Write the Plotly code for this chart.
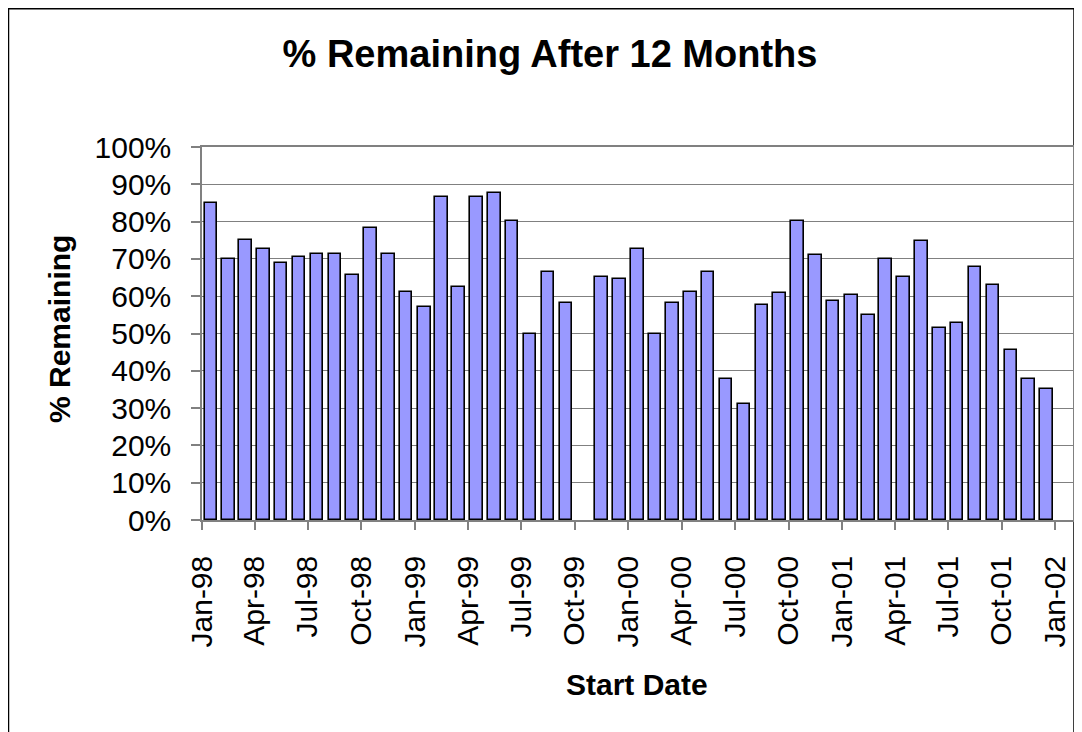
import plotly.graph_objects as go

# ---- data ----
months = [
    "1998-01", "1998-02", "1998-03", "1998-04", "1998-05", "1998-06",
    "1998-07", "1998-08", "1998-09", "1998-10", "1998-11", "1998-12",
    "1999-01", "1999-02", "1999-03", "1999-04", "1999-05", "1999-06",
    "1999-07", "1999-08", "1999-09", "1999-10", "1999-11", "1999-12",
    "2000-01", "2000-02", "2000-03", "2000-04", "2000-05", "2000-06",
    "2000-07", "2000-08", "2000-09", "2000-10", "2000-11", "2000-12",
    "2001-01", "2001-02", "2001-03", "2001-04", "2001-05", "2001-06",
    "2001-07", "2001-08", "2001-09", "2001-10", "2001-11", "2001-12",
]
pct_remaining = [
    85.0, 70.0, 75.2, 72.6, 68.8, 70.5, 71.4, 71.4, 65.6, 78.4, 71.4, 61.2,
    57.0, 86.5, 62.4, 86.5, 87.6, 80.1, 50.0, 66.6, 58.1, None, 65.1, 64.5,
    72.6, 50.0, 58.1, 61.2, 66.6, 37.7, 31.2, 57.6, 60.8, 80.1, 71.0, 58.6,
    60.3, 54.9, 69.9, 65.1, 74.8, 51.6, 52.7, 67.8, 62.9, 45.7, 37.7, 35.0,
]
tick_dates = [
    "1998-01-01", "1998-04-01", "1998-07-01", "1998-10-01",
    "1999-01-01", "1999-04-01", "1999-07-01", "1999-10-01",
    "2000-01-01", "2000-04-01", "2000-07-01", "2000-10-01",
    "2001-01-01", "2001-04-01", "2001-07-01", "2001-10-01",
    "2002-01-01",
]
tick_labels = [
    "Jan-98", "Apr-98", "Jul-98", "Oct-98",
    "Jan-99", "Apr-99", "Jul-99", "Oct-99",
    "Jan-00", "Apr-00", "Jul-00", "Oct-00",
    "Jan-01", "Apr-01", "Jul-01", "Oct-01",
    "Jan-02",
]
y_ticks = [0, 10, 20, 30, 40, 50, 60, 70, 80, 90, 100]
y_tick_labels = ["0%", "10%", "20%", "30%", "40%", "50%",
                 "60%", "70%", "80%", "90%", "100%"]

FONT = "Arial, Liberation Sans, sans-serif"
DAY_MS = 86400000

fig = go.Figure(
    go.Bar(
        x=months,
        y=pct_remaining,
        xperiod="M1",
        xperiodalignment="middle",
        width=21.5 * DAY_MS,
        marker=dict(color="#9999FF", line=dict(color="#000000", width=1.6)),
        showlegend=False,
    )
)

# page body has an 8px margin: work in window pixels, convert to figure pixels
OFF = 8
W, H = 1082 - OFF, 732 - OFF
L, R, T, B = 202 - OFF, 1073 - OFF, 147 - OFF, 520 - OFF
pw, ph = R - L, B - T

def px(x):
    return (x - OFF - L) / pw

def py(y):
    return (B - (y - OFF)) / ph

fig.update_layout(
    width=W,
    height=H,
    margin=dict(l=L, r=W - R, t=T, b=H - B, autoexpand=False),
    paper_bgcolor="white",
    plot_bgcolor="white",
    font=dict(family=FONT, color="black", size=30),
    title=dict(
        text="<b>% Remaining After 12 Months</b>",
        font=dict(family=FONT, size=38, color="black"),
        x=(550 - OFF) / W, xref="container", xanchor="center",
        y=1 - (54 - OFF) / H, yref="container", yanchor="middle",
    ),
    bargap=0,
    xaxis=dict(
        type="date",
        range=["1998-01-01", "2002-01-31"],
        tickmode="array",
        tickvals=tick_dates,
        ticktext=tick_labels,
        tickangle=-90,
        ticks="outside",
        ticklen=8,
        tickcolor="#808080",
        tickwidth=1.5,
        ticklabelstandoff=14,
        tickfont=dict(family=FONT, size=30, color="black"),
        showgrid=False,
        showline=True,
        linecolor="#808080",
        linewidth=1.5,
        mirror=True,
        zeroline=False,
    ),
    yaxis=dict(
        range=[0, 100],
        tickmode="array",
        tickvals=y_ticks,
        ticktext=y_tick_labels,
        ticks="outside",
        ticklen=9,
        tickcolor="#808080",
        tickwidth=1.5,
        ticklabelstandoff=14,
        tickfont=dict(family=FONT, size=30, color="black"),
        showgrid=True,
        gridcolor="#808080",
        gridwidth=1,
        showline=True,
        linecolor="#808080",
        linewidth=1.5,
        mirror=True,
        zeroline=False,
    ),
    annotations=[
        dict(
            text="<b>Start Date</b>",
            xref="paper", yref="paper",
            x=px(637), y=py(684),
            xanchor="center", yanchor="middle",
            showarrow=False,
            font=dict(family=FONT, size=30, color="black"),
        ),
        dict(
            text="<b>% Remaining</b>",
            xref="paper", yref="paper",
            x=px(59), y=py(329),
            xanchor="center", yanchor="middle",
            textangle=-90,
            showarrow=False,
            font=dict(family=FONT, size=30, color="black"),
        ),
    ],
    shapes=[
        dict(
            type="rect",
            xref="paper", yref="paper",
            x0=px(8.5), x1=px(1074), y0=py(760), y1=py(8.8),
            line=dict(color="#000000", width=1.5),
            fillcolor="rgba(0,0,0,0)",
            layer="below",
        )
    ],
)

fig.write_html("out.html")
